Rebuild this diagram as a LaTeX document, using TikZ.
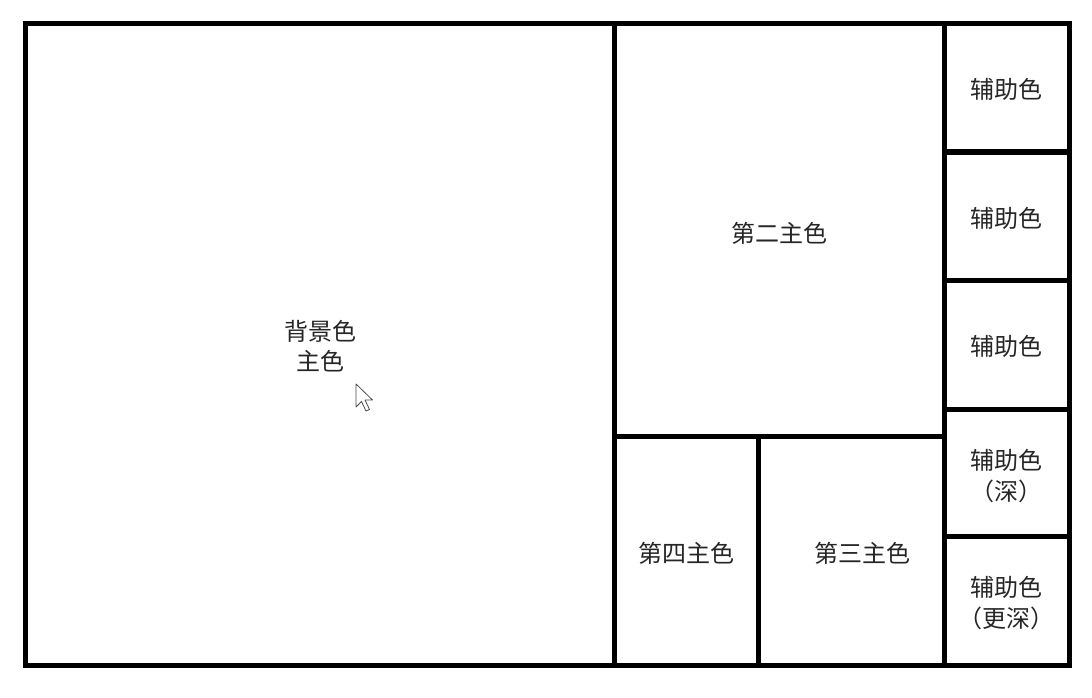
\documentclass[tikz,border=0pt]{standalone}
\usepackage{fontspec}
\newfontfamily\cjk{Noto Sans CJK SC}
\tikzset{
  frame/.style={line width=5pt, line cap=rect, line join=miter},
  lbl/.style={font=\cjk\fontsize{24pt}{30.5pt}\selectfont, align=center, inner sep=0pt, text=black!85},
  cursorshape/.style={draw=black!70, fill=white, line width=0.8pt, line join=round}
}
\begin{document}
\begin{tikzpicture}[x=1pt, y=-1pt]
\useasboundingbox (0,0) rectangle (1092,698);
\fill[white] (0,0) rectangle (1092,698);
% grid lines
\coordinate (tl) at (25,23.5);
\coordinate (br) at (1069,665.5);
\draw[frame] (tl) rectangle (br);
\draw[frame] (614,23.5) -- (614,665.5);
\draw[frame] (944,23.5) -- (944,665.5);
\draw[frame] (614,436) -- (944,436);
\draw[frame] (758.5,436) -- (758.5,665.5);
\draw[frame] (944,152) -- (1069,152);
\draw[frame] (944,280.5) -- (1069,280.5);
\draw[frame] (944,409.5) -- (1069,409.5);
\draw[frame] (944,536.5) -- (1069,536.5);
% labels
\node[lbl] (bg) at (320,346) {背景色\\主色};
\node[lbl] (p2) at (779,233) {第二主色};
\node[lbl] (p4) at (686,553) {第四主色};
\node[lbl] (p3) at (862,553) {第三主色};
\node[lbl] (a1) at (1006.5,89) {辅助色};
\node[lbl] (a2) at (1006.5,218) {辅助色};
\node[lbl] (a3) at (1006.5,346) {辅助色};
\node[lbl] (a4) at (1006.5,476) {辅助色\\（深）};
\node[lbl] (a5) at (1006.5,603) {辅助色\\（更深）};
% mouse cursor
\draw[cursorshape] (356,384) -- (356,407) -- (361.5,401.5) -- (366,411) -- (369.5,409.5) -- (365,400) -- (372.5,400) -- cycle;
\end{tikzpicture}
\end{document}
